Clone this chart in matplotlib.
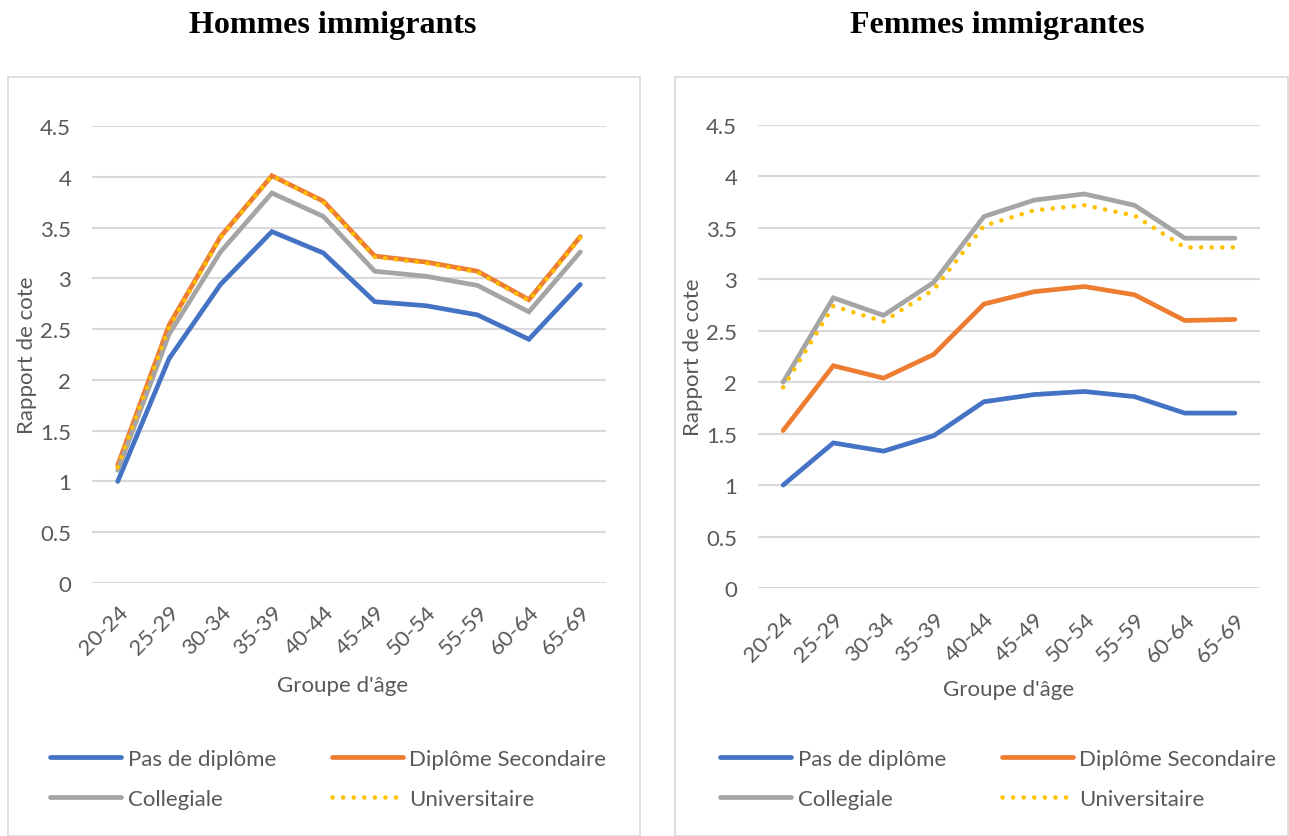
import matplotlib.pyplot as plt
from matplotlib.patches import Rectangle

groupes = ["20-24", "25-29", "30-34", "35-39", "40-44",
           "45-49", "50-54", "55-59", "60-64", "65-69"]

# Hommes immigrants
h_pas_diplome = [1.00, 2.21, 2.94, 3.46, 3.25, 2.77, 2.73, 2.64, 2.40, 2.94]
h_secondaire = [1.16, 2.54, 3.41, 4.01, 3.76, 3.22, 3.16, 3.07, 2.79, 3.41]
h_collegiale = [1.11, 2.45, 3.26, 3.84, 3.61, 3.07, 3.02, 2.93, 2.67, 3.26]
h_universitaire = [1.14, 2.52, 3.40, 4.01, 3.75, 3.21, 3.15, 3.06, 2.78, 3.40]

# Femmes immigrantes
f_pas_diplome = [1.00, 1.41, 1.33, 1.48, 1.81, 1.88, 1.91, 1.86, 1.70, 1.70]
f_secondaire = [1.53, 2.16, 2.04, 2.27, 2.76, 2.88, 2.93, 2.85, 2.60, 2.61]
f_collegiale = [2.00, 2.82, 2.65, 2.97, 3.61, 3.77, 3.83, 3.72, 3.40, 3.40]
f_universitaire = [1.95, 2.74, 2.59, 2.90, 3.52, 3.67, 3.72, 3.62, 3.31, 3.31]

yticks = [0, 0.5, 1, 1.5, 2, 2.5, 3, 3.5, 4, 4.5]
ytick_labels = ["0", "0.5", "1", "1.5", "2", "2.5", "3", "3.5", "4", "4.5"]

series_labels = ["Pas de diplôme", "Diplôme Secondaire", "Collegiale", "Universitaire"]
colors = ["#4472C4", "#ED7D31", "#A5A5A5", "#FFC000"]

plt.rcParams["font.family"] = ["Lato", "DejaVu Sans"]
text_color = "#595959"
grid_color = "#D9D9D9"

W, H = 1289, 837
fig = plt.figure(figsize=(W / 100, H / 100), dpi=100)

# panel frames
fig.patches.append(Rectangle((8 / W, 0), 632 / W, 1 - 78 / H, transform=fig.transFigure,
                             fill=False, edgecolor=grid_color, linewidth=1.2))
fig.patches.append(Rectangle((675 / W, 0), 613 / W, 1 - 78 / H, transform=fig.transFigure,
                             fill=False, edgecolor=grid_color, linewidth=1.2))


def draw_panel(rect, data, title, title_x, xlabel_xy, ylabel_x, legend_anchor, xpad):
    ax = fig.add_axes(rect)
    x = range(len(groupes))
    for i, (vals, lab, col) in enumerate(zip(data, series_labels, colors)):
        if i == 3:
            ax.plot(x, vals, color=col, linewidth=3.3, linestyle=(0, (0.01, 2.3)),
                    dash_capstyle="round", label=lab, zorder=5)
        else:
            ax.plot(x, vals, color=col, linewidth=3.4, solid_capstyle="round",
                    solid_joinstyle="miter", label=lab, zorder=3 + i * 0.1)
    ax.set_xlim(-0.5, 9.5)
    ax.set_ylim(0, 4.5)
    ax.set_yticks(yticks)
    ax.set_yticklabels(ytick_labels)
    ax.set_xticks(list(x))
    ax.set_xticklabels(groupes, rotation=45, ha="right", rotation_mode="anchor")
    ax.tick_params(axis="both", length=0, labelsize=16, colors=text_color)
    ax.tick_params(axis="x", pad=xpad)
    ax.tick_params(axis="y", pad=15)
    ax.grid(axis="y", color=grid_color, linewidth=1.5)
    ax.set_axisbelow(True)
    for s in ax.spines.values():
        s.set_visible(False)
    ax.set_ylabel("Rapport de cote", fontsize=16, color=text_color)
    ax.yaxis.set_label_coords(ylabel_x, 0.5)
    fig.text(title_x / W, 1 - 25 / H, title, ha="center", va="center",
             fontsize=23, fontweight="bold", family="Liberation Serif")
    fig.text(xlabel_xy[0] / W, 1 - xlabel_xy[1] / H, "Groupe d'âge", ha="center",
             va="center", fontsize=16, color=text_color)
    handles, labels = ax.get_legend_handles_labels()
    # legend fills row by row: Pas de diplôme / Secondaire, Collegiale / Universitaire
    order = [0, 2, 1, 3]
    fig.legend([handles[k] for k in order], [labels[k] for k in order],
               loc="upper left", bbox_to_anchor=(legend_anchor[0] / W, 1 - legend_anchor[1] / H),
               bbox_transform=fig.transFigure, ncol=2, frameon=False,
               fontsize=16, handlelength=3.2, handletextpad=0.3,
               columnspacing=2.5, labelspacing=0.9, labelcolor=text_color)
    return ax


draw_panel([92 / W, 1 - 584 / H, 514 / W, 457 / H],
           [h_pas_diplome, h_secondaire, h_collegiale, h_universitaire],
           "Hommes immigrants", 333, (343, 686), -0.107, (30, 730), 13)
draw_panel([758 / W, 1 - 589 / H, 502 / W, 463 / H],
           [f_pas_diplome, f_secondaire, f_collegiale, f_universitaire],
           "Femmes immigrantes", 997, (1009, 690), -0.11, (700, 730), 15)

fig.savefig("out.png", dpi=100, facecolor="white")
